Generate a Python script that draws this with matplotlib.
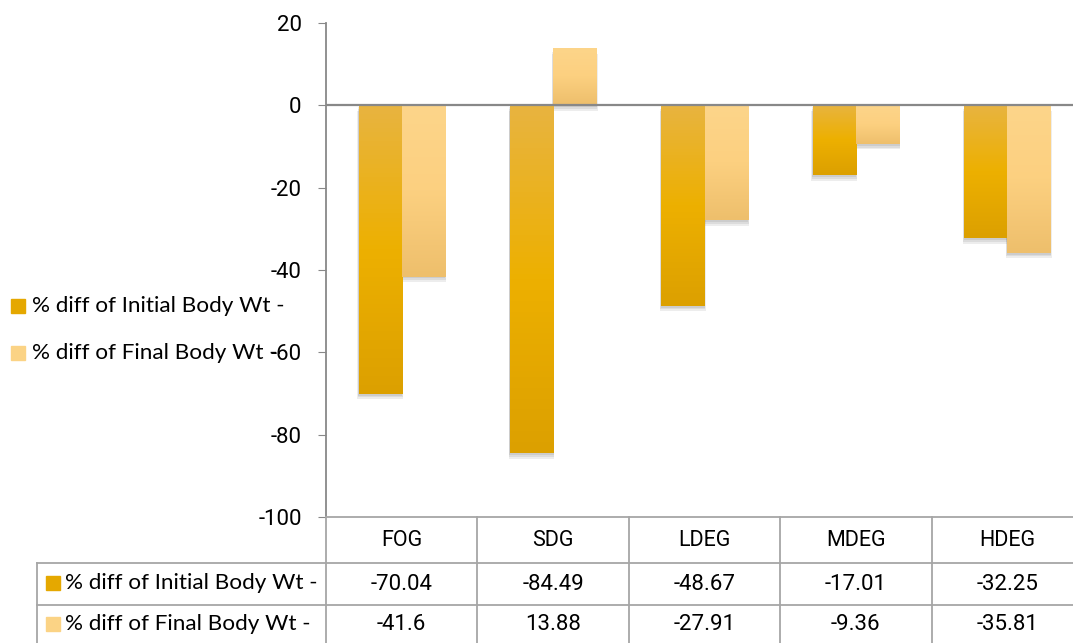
import numpy as np
import matplotlib
matplotlib.use('Agg')
import matplotlib.pyplot as plt
from matplotlib.patches import Rectangle
from matplotlib.colors import LinearSegmentedColormap

groups = ['FOG', 'SDG', 'LDEG', 'MDEG', 'HDEG']
initial_wt = [-70.04, -84.49, -48.67, -17.01, -32.25]
final_wt = [-41.6, 13.88, -27.91, -9.36, -35.81]
series_names = ['% diff of Initial Body Wt -', '% diff of Final Body Wt -']
yticks = [-100, -80, -60, -40, -20, 0, 20]

W, H = 1073, 643
FONT = 'Lato'
NUMFONT = 'Roboto'
GRID = '#a6a6a6'


def fx(px):
    return px / W


def fy(py):
    return 1 - py / H


def shade_bar(ax, bar, stops):
    """ Fill a bar with a vertical gradient and a soft shadow """
    x, y = bar.get_x(), bar.get_y()
    w, h = bar.get_width(), bar.get_height()
    cmap = LinearSegmentedColormap.from_list('g', stops)
    grad = np.linspace(0, 1, 64).reshape(-1, 1)
    top, bot = max(y, y + h), min(y, y + h)
    im = ax.imshow(grad, cmap=cmap, aspect='auto', origin='upper',
                   extent=(x, x + w, bot, top), zorder=3)
    im.set_clip_path(bar)
    for k in range(1, 4):
        dx, dy = 0.006 * k, 0.45 * k
        ax.add_patch(Rectangle((x - dx * 0.5, bot - dy), w + dx, top - bot, color='#000000',
                               alpha=0.07, zorder=2, lw=0))


fig = plt.figure(figsize=(W / 100, H / 100), dpi=100)
ax = fig.add_axes([fx(326), fy(517), fx(1083 - 326), fy(23) - fy(517)])

pos = np.arange(len(groups))
bw = 0.285
b1 = ax.bar(pos - bw / 2, initial_wt, bw, color='#eab020', zorder=3, lw=0)
b2 = ax.bar(pos + bw / 2, final_wt, bw, color='#fcd080', zorder=3, lw=0)
for b in b1:
    shade_bar(ax, b, ['#e8b440', '#edb000', '#dca000'])
for b in b2:
    shade_bar(ax, b, ['#fdd58a', '#fcd080', '#eebf6c'])

ax.set_xlim(-0.5, len(groups) - 0.5)
ax.set_ylim(-100, 20)
ax.set_yticks(yticks)
ax.set_yticklabels([str(t) for t in yticks], fontsize=16, family=NUMFONT)
ax.tick_params(axis='y', length=6, color='#888888', pad=11.5)
ax.set_xticks([])
for s in ['top', 'right', 'bottom']:
    ax.spines[s].set_visible(False)
ax.spines['left'].set_color('#888888')
ax.spines['left'].set_linewidth(1.3)
ax.axhline(0, color='#888888', lw=1.6, zorder=4)

# legend on the left
colors = ['#e5a800', '#fbd385']
for i, (name, c) in enumerate(zip(series_names, colors)):
    cy = 306 + i * 47
    fig.patches.append(Rectangle((fx(11), fy(cy + 7)), fx(14), fy(cy - 7) - fy(cy + 7),
                                 color=c, transform=fig.transFigure, figure=fig))
    fig.text(fx(32), fy(cy), name, fontsize=16.2, family=FONT, va='center', ha='left')

# data table
tr = fig.transFigure
right = 1083
edges = [326 + 151.4 * k for k in range(len(groups) + 1)]
fig.add_artist(plt.Line2D([fx(326), fx(right)], [fy(517), fy(517)], color=GRID, lw=1.3, transform=tr))
for yy in [563, 605]:
    fig.add_artist(plt.Line2D([fx(37), fx(right)], [fy(yy), fy(yy)], color=GRID, lw=1.3, transform=tr))
fig.add_artist(plt.Line2D([fx(37), fx(37)], [fy(563), fy(643)], color=GRID, lw=1.3, transform=tr))
for e in edges:
    fig.add_artist(plt.Line2D([fx(e), fx(e)], [fy(517), fy(643)], color=GRID, lw=1.3, transform=tr))

for k, g in enumerate(groups):
    cx = (edges[k] + edges[k + 1]) / 2
    fig.text(fx(cx), fy(540), g, fontsize=15.5, family=NUMFONT, ha='center', va='center')
    fig.text(fx(cx), fy(584), f'{initial_wt[k]:g}', fontsize=16, family=NUMFONT, ha='center', va='center')
    fig.text(fx(cx), fy(624), f'{final_wt[k]:g}', fontsize=16, family=NUMFONT, ha='center', va='center')

for i, (name, c) in enumerate(zip(series_names, colors)):
    cy = [583, 624][i]
    fig.patches.append(Rectangle((fx(46), fy(cy + 7)), fx(14), fy(cy - 7) - fy(cy + 7),
                                 color=c, transform=tr, figure=fig))
    fig.text(fx(65), fy(cy), name, fontsize=16.2, family=FONT, va='center', ha='left')

fig.savefig('out.png', dpi=100)
